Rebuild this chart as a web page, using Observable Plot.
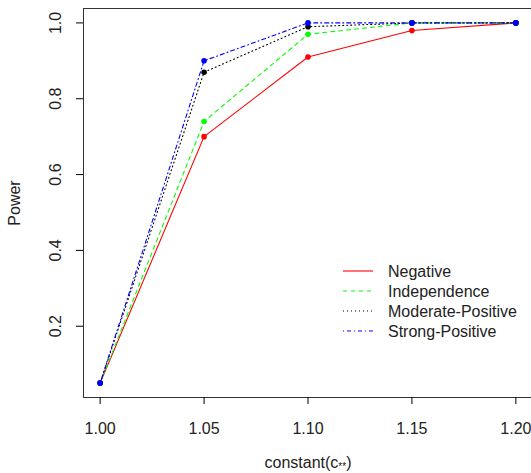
<!DOCTYPE html>
<html>
<head>
<meta charset="utf-8">
<script src="https://cdn.jsdelivr.net/npm/d3@7"></script>
<script src="https://cdn.jsdelivr.net/npm/@observablehq/plot@0.6"></script>
<style>
  html, body { margin: 0; padding: 0; background: #fff; overflow: hidden; }
  #chart svg { display: block; }
</style>
</head>
<body>
<div id="chart"></div>
<script>
// ---- data ----
const constants = [1.00, 1.05, 1.10, 1.15, 1.20];
const negative = [0.05, 0.70, 0.91, 0.98, 1.00];
const independence = [0.05, 0.74, 0.97, 1.00, 1.00];
const moderatePositive = [0.05, 0.87, 0.99, 1.00, 1.00];
const strongPositive = [0.05, 0.90, 1.00, 1.00, 1.00];
const seriesNames = ["Negative", "Independence", "Moderate-Positive", "Strong-Positive"];
const xTicks = [1.00, 1.05, 1.10, 1.15, 1.20];
const yTicks = [0.2, 0.4, 0.6, 0.8, 1.0];

const seriesValues = [negative, independence, moderatePositive, strongPositive];
const colors = ["#FF0000", "#00FF00", "#000000", "#0000FF"];
const dashes = [null, "4,4", "1,3", "1,3,4,3"];

const rows = [];
seriesNames.forEach((name, i) => {
  constants.forEach((c, j) => rows.push({series: name, x: c, y: seriesValues[i][j]}));
});

const font = "'Liberation Sans', Arial, sans-serif";
const fs = 16;

const marks = [
  Plot.frame({stroke: "#333", strokeWidth: 1}),
  Plot.axisX(xTicks, {tickSize: 7, tickPadding: 18, tickFormat: d3.format(".2f"), fontSize: fs, fill: "#222", label: null}),
  Plot.axisY(yTicks, {tickSize: 7, tickFormat: () => "", label: null}),
  Plot.text(yTicks, {y: d => d, frameAnchor: "left", dx: -28, rotate: -90, text: d => d3.format(".1f")(d), fontSize: fs, fill: "#222", textAnchor: "middle"})
];
seriesNames.forEach((name, i) => {
  const data = rows.filter(r => r.series === name);
  marks.push(Plot.line(data, {x: "x", y: "y", stroke: colors[i], strokeWidth: 1.1, strokeDasharray: dashes[i]}));
  marks.push(Plot.dot(data, {x: "x", y: "y", fill: colors[i], r: 2.8, stroke: null}));
});

const chart = Plot.plot({
  width: 531,
  height: 473,
  marginLeft: 83,
  marginRight: -1,
  marginTop: 8,
  marginBottom: 76,
  style: {fontFamily: font, background: "#fff"},
  x: {domain: [0.992, 1.208]},
  y: {domain: [0.012, 1.038]},
  marks
});
document.getElementById("chart").appendChild(chart);

// axis titles and legend added as real SVG text
const svg = d3.select(chart);
const xl = svg.append("text")
  .attr("x", 308).attr("y", 468)
  .attr("text-anchor", "middle")
  .attr("font-family", font).attr("font-size", fs).attr("fill", "#222");
xl.append("tspan").text("constant(c");
xl.append("tspan").attr("font-size", 10).attr("dy", 2).text("**");
xl.append("tspan").attr("dy", -2).text(")");

svg.append("text")
  .attr("transform", "translate(20,203) rotate(-90)")
  .attr("text-anchor", "middle")
  .attr("font-family", font).attr("font-size", fs).attr("fill", "#222")
  .text("Power");

const legend = svg.append("g");
seriesNames.forEach((name, i) => {
  const y = 271 + i * 20;
  legend.append("line")
    .attr("x1", 343).attr("x2", 373).attr("y1", y).attr("y2", y)
    .attr("stroke", colors[i]).attr("stroke-width", 1.1)
    .attr("stroke-dasharray", dashes[i]);
  legend.append("text")
    .attr("x", 388).attr("y", y).attr("dy", "0.35em")
    .attr("text-anchor", "start")
    .attr("font-family", font).attr("font-size", fs).attr("fill", "#222")
    .text(name);
});
</script>
</body>
</html>
